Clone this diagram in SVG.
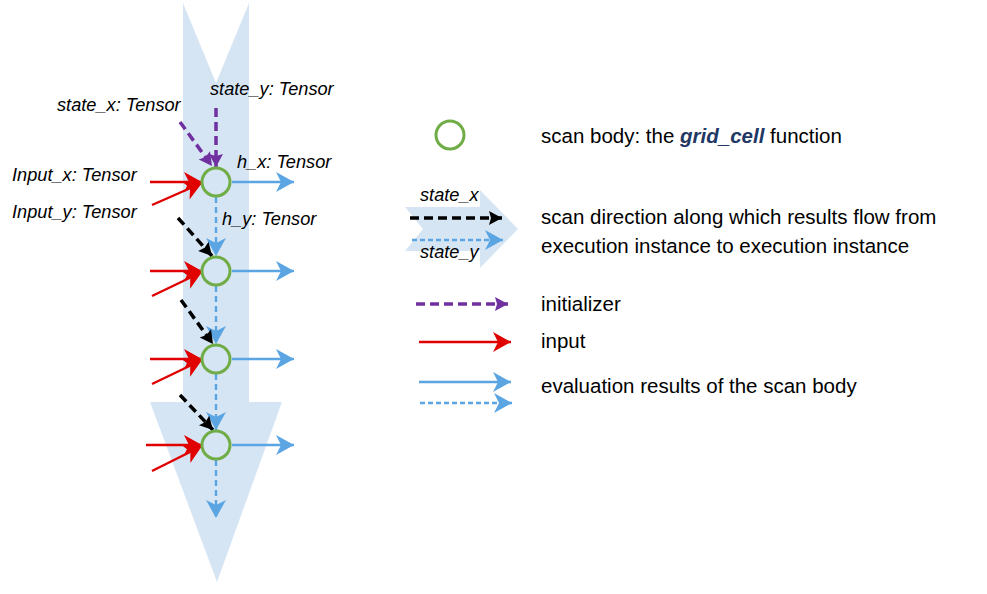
<svg xmlns="http://www.w3.org/2000/svg" width="987" height="594" viewBox="0 0 987 594">
<style>
.bg{fill:#d6e5f4;stroke:none}
.lbl{font-family:"Liberation Sans",Arial,sans-serif;font-style:italic;font-size:18.2px;fill:#000}
.txt{font-family:"Liberation Sans",Arial,sans-serif;font-size:20.5px;fill:#000}
.node{fill:none;stroke:#70ad47;stroke-width:3}
.red{stroke:#e00000;stroke-width:2.4;fill:none;marker-end:url(#mRed)}
.blue{stroke:#5ba5e3;stroke-width:2.4;fill:none;marker-end:url(#mBlue)}
.blued{stroke:#5ba5e3;stroke-width:2.4;fill:none;stroke-dasharray:6 4;marker-end:url(#mBlue)}
.black{stroke:#000;stroke-width:3.5;fill:none;stroke-dasharray:9 5;marker-end:url(#mBlack)}
.purple{stroke:#7030a0;stroke-width:3.5;fill:none;stroke-dasharray:9 5;marker-end:url(#mPurple)}
</style>
<defs>
<marker id="mRed" markerUnits="userSpaceOnUse" markerWidth="19" markerHeight="20" refX="18" refY="10" orient="auto" overflow="visible"><path d="M0,0 L18,10 L0,20 L5,10 z" fill="#e00000"/></marker>
<marker id="mBlue" markerUnits="userSpaceOnUse" markerWidth="19" markerHeight="20" refX="18" refY="10" orient="auto" overflow="visible"><path d="M0,0 L18,10 L0,20 L5,10 z" fill="#5ba5e3"/></marker>
<marker id="mBlack" markerUnits="userSpaceOnUse" markerWidth="14" markerHeight="14" refX="13" refY="7" orient="auto" overflow="visible"><path d="M0,0 L13,7 L0,14 L2,7 z" fill="#000"/></marker>
<marker id="mPurple" markerUnits="userSpaceOnUse" markerWidth="14" markerHeight="14" refX="13" refY="7" orient="auto" overflow="visible"><path d="M0,0 L13,7 L0,14 L2,7 z" fill="#7030a0"/></marker>
</defs>
<rect width="987" height="594" fill="#fff"/>
<g id="scan-arrow">
<path class="bg" d="M183,3 L216,83 L249,3 L249,402 L282,402 L217,582 L150,402 L183,402 z"/>
</g>
<g id="labels">
<text class="lbl" x="210" y="95">state_y: Tensor</text>
<text class="lbl" x="57" y="111">state_x: Tensor</text>
<text class="lbl" x="237" y="168">h_x: Tensor</text>
<text class="lbl" x="12" y="181">Input_x: Tensor</text>
<text class="lbl" x="12" y="218">Input_y: Tensor</text>
<text class="lbl" x="222" y="225">h_y: Tensor</text>
</g>
<g id="connectors">
<line class="purple" x1="180" y1="122" x2="212" y2="166"/>
<line class="purple" x1="216" y1="108" x2="216" y2="167"/>
<line class="red" x1="150" y1="182" x2="202" y2="182"/>
<line class="red" x1="152" y1="205" x2="202" y2="183"/>
<line class="blue" x1="232" y1="182" x2="294" y2="182"/>
<line class="blued" x1="216" y1="197" x2="216" y2="256"/>
<line class="black" x1="178" y1="218" x2="212" y2="256"/>
<line class="red" x1="150" y1="271" x2="202" y2="271"/>
<line class="red" x1="152" y1="296" x2="202" y2="272"/>
<line class="blue" x1="232" y1="271" x2="294" y2="271"/>
<line class="blued" x1="216" y1="286" x2="216" y2="344"/>
<line class="black" x1="181" y1="300" x2="213" y2="344"/>
<line class="red" x1="150" y1="359" x2="202" y2="359"/>
<line class="red" x1="152" y1="384" x2="202" y2="360"/>
<line class="blue" x1="232" y1="359" x2="294" y2="359"/>
<line class="blued" x1="216" y1="374" x2="216" y2="430"/>
<line class="black" x1="180" y1="395" x2="213" y2="430"/>
<line class="red" x1="146" y1="445" x2="202" y2="445"/>
<line class="red" x1="152" y1="471" x2="202" y2="446"/>
<line class="blue" x1="232" y1="445" x2="294" y2="445"/>
<line class="blued" x1="216" y1="460" x2="216" y2="518"/>
</g>
<g id="node1"><circle class="node" cx="216" cy="182" r="14"/></g>
<g id="node2"><circle class="node" cx="216" cy="271" r="14"/></g>
<g id="node3"><circle class="node" cx="216" cy="359" r="14"/></g>
<g id="node4"><circle class="node" cx="216" cy="445" r="14"/></g>
<g id="legend">
<circle class="node" cx="450" cy="135" r="14"/>
<text class="txt" x="541" y="143">scan body: the <tspan font-weight="bold" font-style="italic" fill="#1f3864">grid_cell</tspan> function</text>
<path class="bg" d="M405,207 L480,207 L480,190 L518,229 L480,268 L480,251 L405,251 L423,229 z"/>
<text class="lbl" x="420" y="201">state_x</text>
<line class="black" x1="410" y1="218" x2="502" y2="218"/>
<line class="blued" x1="412" y1="240" x2="503" y2="240" style="stroke-dasharray:5 3"/>
<text class="lbl" x="420" y="258">state_y</text>
<text class="txt" x="541" y="224">scan direction along which results flow from</text>
<text class="txt" x="541" y="253">execution instance to execution instance</text>
<line class="purple" x1="416" y1="304" x2="508" y2="304"/>
<text class="txt" x="541" y="311">initializer</text>
<line class="red" x1="419" y1="342" x2="511" y2="342"/>
<text class="txt" x="541" y="348">input</text>
<line class="blue" x1="419" y1="382" x2="511" y2="382"/>
<line class="blued" x1="420" y1="403" x2="512" y2="403" style="stroke-dasharray:5 3"/>
<text class="txt" x="541" y="393">evaluation results of the scan body</text>
</g>
</svg>
